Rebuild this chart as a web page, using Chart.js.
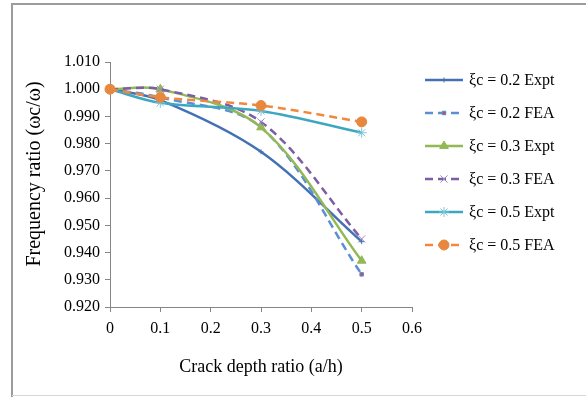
<!DOCTYPE html>
<html>
<head>
<meta charset="utf-8">
<script src="https://cdn.jsdelivr.net/npm/chart.js"></script>
<style>
  html, body { margin: 0; padding: 0; background: #fff; overflow: hidden; }
  canvas { display: block; }
</style>
</head>
<body>
<canvas id="chart" width="586" height="398"></canvas>
<script>
// values
const crackRatio = [0, 0.1, 0.3, 0.5];
const xi02Expt = [1.000, 0.996, 0.977, 0.944];
const xi02Fea  = [1.000, 0.997, 0.986, 0.932];
const xi03Expt = [1.000, 1.000, 0.986, 0.937];
const xi03Fea  = [1.000, 1.000, 0.988, 0.945];
const xi05Expt = [1.000, 0.995, 0.992, 0.984];
const xi05Fea  = [1.000, 0.997, 0.994, 0.988];

const seriesNames = ['ξc = 0.2 Expt', 'ξc = 0.2 FEA', 'ξc = 0.3 Expt',
                     'ξc = 0.3 FEA', 'ξc = 0.5 Expt', 'ξc = 0.5 FEA'];
const xTickLabels = ['0', '0.1', '0.2', '0.3', '0.4', '0.5', '0.6'];
const yTickLabels = ['0.920', '0.930', '0.940', '0.950', '0.960',
                     '0.970', '0.980', '0.990', '1.000', '1.010'];

const SERIF = '"Liberation Serif", "Times New Roman", serif';

function pts(ys) {
    return crackRatio.map((x, i) => ({ x: x, y: ys[i] }));
}

function series(i, ys, color, dash, marker) {
    return Object.assign({
        label: seriesNames[i],
        data: pts(ys),
        borderColor: color,
        borderWidth: 2.5,
        borderDash: dash,
        tension: 0.33,
        fill: false,
        clip: false,
        order: 6 - i
    }, marker);
}

const datasets = [
    series(0, xi02Expt, '#4471b4', [], {
        pointStyle: 'cross', pointRadius: 2.5, pointBorderWidth: 1,
        pointBorderColor: '#4471b4', pointBackgroundColor: '#4471b4'
    }),
    series(1, xi02Fea, '#5b8fd3', [8, 5], {
        pointStyle: 'rect', pointRadius: 2.5, pointBorderWidth: 1,
        pointBorderColor: '#5b8fd3', pointBackgroundColor: '#c0504d'
    }),
    series(2, xi03Expt, '#93b956', [], {
        pointStyle: 'triangle', pointRadius: 5, pointBorderWidth: 1,
        pointBorderColor: '#93b956', pointBackgroundColor: '#93b956'
    }),
    series(3, xi03Fea, '#7b5ea3', [8, 5], {
        pointStyle: 'crossRot', pointRadius: 5, pointBorderWidth: 1,
        pointBorderColor: '#9a86c0', pointBackgroundColor: '#9a86c0'
    }),
    series(4, xi05Expt, '#3fa6c2', [], {
        pointStyle: 'star', pointRadius: 5, pointBorderWidth: 1,
        pointBorderColor: '#7cc6db', pointBackgroundColor: '#7cc6db'
    }),
    series(5, xi05Fea, '#f0883e', [8, 5], {
        pointStyle: 'circle', pointRadius: 5, pointBorderWidth: 1,
        pointBorderColor: '#e8883e', pointBackgroundColor: '#e8883e'
    })
];

// outer frame, open on the right like the source image
const framePlugin = {
    id: 'frame',
    beforeDraw(chart) {
        const ctx = chart.ctx;
        ctx.save();
        ctx.fillStyle = '#fff';
        ctx.fillRect(0, 0, chart.width, chart.height);
        ctx.strokeStyle = '#9c9c9c';
        ctx.lineWidth = 2;
        ctx.beginPath();
        ctx.moveTo(12, 397);
        ctx.lineTo(12, 4);
        ctx.lineTo(chart.width, 4);
        ctx.stroke();
        ctx.strokeStyle = '#d6d6d6';
        ctx.lineWidth = 1;
        ctx.beginPath();
        ctx.moveTo(12, 395.5);
        ctx.lineTo(chart.width, 395.5);
        ctx.stroke();
        ctx.restore();
    }
};

// titles and legend drawn by hand, Excel style
const decorPlugin = {
    id: 'decor',
    afterDraw(chart) {
        const ctx = chart.ctx;
        const area = chart.chartArea;
        ctx.save();
        ctx.fillStyle = '#000';
        ctx.textAlign = 'center';
        ctx.textBaseline = 'middle';
        ctx.font = '18px ' + SERIF;
        ctx.fillText('Crack depth ratio (a/h)', (area.left + area.right) / 2, 367);
        ctx.translate(35, 174);
        ctx.rotate(-Math.PI / 2);
        ctx.font = '20px ' + SERIF;
        ctx.fillText('Frequency ratio (ωc/ω)', 0, 0);
        ctx.restore();

        // legend
        chart.data.datasets.forEach((ds, i) => {
            const y = 80 + i * 33;
            ctx.save();
            ctx.strokeStyle = ds.borderColor;
            ctx.lineWidth = ds.borderWidth;
            ctx.setLineDash(ds.borderDash);
            ctx.beginPath();
            ctx.moveTo(425, y);
            ctx.lineTo(463, y);
            ctx.stroke();
            ctx.setLineDash([]);
            ctx.fillStyle = ds.pointBackgroundColor;
            ctx.strokeStyle = ds.pointBorderColor;
            ctx.lineWidth = ds.pointBorderWidth;
            if (Chart.helpers && Chart.helpers.drawPoint) {
                Chart.helpers.drawPoint(ctx, {
                    pointStyle: ds.pointStyle, radius: ds.pointRadius,
                    rotation: 0, borderWidth: ds.pointBorderWidth
                }, 444, y);
            }
            ctx.fillStyle = '#000';
            ctx.font = '16px ' + SERIF;
            ctx.textAlign = 'left';
            ctx.textBaseline = 'middle';
            ctx.fillText(ds.label, 469, y + 1);
            ctx.restore();
        });
    }
};

new Chart(document.getElementById('chart'), {
    type: 'line',
    data: { datasets: datasets },
    plugins: [framePlugin, decorPlugin],
    options: {
        responsive: false,
        animation: false,
        events: [],
        layout: { padding: { left: 0, right: 174, top: 62, bottom: 0 } },
        plugins: { legend: { display: false }, tooltip: { enabled: false } },
        scales: {
            x: {
                type: 'linear',
                min: 0, max: 0.6,
                afterFit: s => { s.height = 91; },
                afterBuildTicks: s => {
                    s.ticks = xTickLabels.map(t => ({ value: parseFloat(t) }));
                },
                ticks: {
                    callback: (v, i) => xTickLabels[i],
                    color: '#000',
                    font: { family: SERIF, size: 16 },
                    padding: 7,
                    maxRotation: 0
                },
                grid: {
                    drawOnChartArea: false, drawTicks: true,
                    tickLength: 5, color: '#868686'
                },
                border: { color: '#868686', width: 1 }
            },
            y: {
                type: 'linear',
                min: 0.92, max: 1.01,
                afterFit: s => { s.width = 110; },
                afterBuildTicks: s => {
                    s.ticks = yTickLabels.map(t => ({ value: parseFloat(t) }));
                },
                ticks: {
                    callback: (v, i) => yTickLabels[i],
                    color: '#000',
                    font: { family: SERIF, size: 16 },
                    padding: 5
                },
                grid: {
                    drawOnChartArea: false, drawTicks: true,
                    tickLength: 5, color: '#868686'
                },
                border: { color: '#868686', width: 1 }
            }
        }
    }
});
</script>
</body>
</html>
